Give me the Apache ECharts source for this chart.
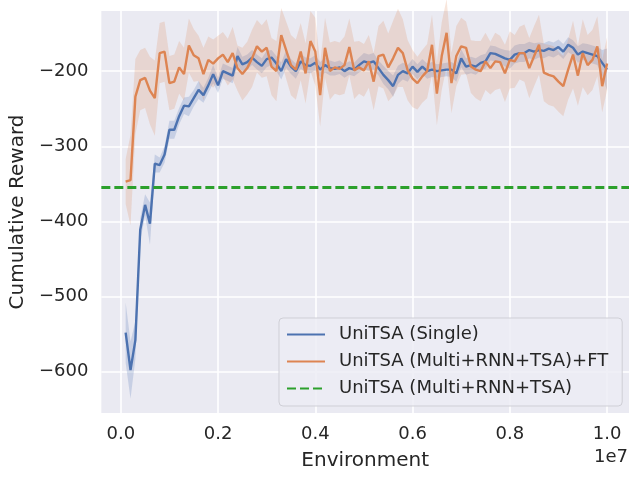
<!DOCTYPE html>
<html>
<head>
<meta charset="utf-8">
<script src="https://cdn.jsdelivr.net/npm/echarts@6/dist/echarts.min.js"></script>
<style>
html,body{margin:0;padding:0;background:#fff;}
#chart{width:640px;height:480px;}
</style>
</head>
<body>
<div id="chart"></div>
<script>
// x grid: one evaluation every 1e5 environment steps, 1e5 .. 1e7
var steps = Array.from({length: 100}, function (_, k) { return (k + 1) * 100000; });

var singleMean = [
 -548,-598,-558,-411,-378,-403,-323,-325,-311,-278,
 -278,-260,-246,-247,-236,-225,-232,-219,-204,-219,
 -200,-203,-206,-180,-191,-188,-182,-188,-193,-184,
 -182,-190,-200,-184,-194,-200,-187,-192,-193,-189,
 -198,-192,-196,-197,-195,-200,-196,-198,-192,-187,
 -189,-187,-196,-205,-212,-220,-205,-200,-203,-194,
 -201,-194,-200,-198,-200,-199,-198,-198,-203,-183,
 -194,-192,-194,-189,-187,-176,-177,-180,-183,-185,
 -178,-176,-176,-172,-174,-172,-173,-170,-172,-168,
 -174,-165,-169,-178,-174,-176,-178,-180,-189,-198
];
var singleSpread = [
 40,38,25,15,14,28,12,10,11,12,
 12,11,11,13,11,12,10,10,12,10,
 10,10,10,12,10,10,10,10,10,11,
 10,10,11,12,10,10,10,10,10,10,
 10,10,10,9,9,9,9,9,10,11,
 11,11,10,12,12,14,12,11,11,10,
 10,10,10,10,9,9,9,10,11,12,
 11,11,11,10,10,10,10,10,11,12,
 12,12,12,11,11,10,10,10,10,10,
 10,10,10,11,11,12,12,12,17,28
];
var ftMean = [
 -347,-345,-234,-212,-209,-226,-236,-176,-174,-216,
 -214,-195,-204,-166,-179,-183,-204,-185,-190,-183,
 -178,-188,-176,-196,-204,-196,-183,-167,-174,-169,
 -194,-200,-152,-172,-192,-198,-174,-203,-160,-174,
 -232,-169,-200,-195,-197,-192,-168,-199,-195,-199,
 -187,-214,-180,-178,-195,-183,-169,-176,-199,-210,
 -216,-207,-200,-165,-230,-180,-149,-216,-180,-167,
 -169,-194,-198,-200,-187,-196,-187,-188,-203,-185,
 -187,-176,-176,-196,-180,-165,-202,-205,-207,-214,
 -220,-198,-178,-206,-176,-192,-185,-167,-220,-190
];
var ftSpread = [
 30,60,50,40,40,45,50,40,40,36,
 36,35,35,36,35,30,35,31,32,30,
 30,31,35,30,35,35,38,35,35,38,
 38,40,36,38,40,40,38,40,40,45,
 42,40,38,35,35,38,38,38,35,35,
 35,38,40,45,45,50,52,45,40,38,
 35,35,36,40,42,45,45,40,40,38,
 35,35,38,40,38,35,38,35,38,38,
 35,35,38,40,40,40,38,40,40,40,
 40,40,45,40,45,40,40,40,35,35
];
var baselineValue = [-355];
var xTicks = [0, 2000000, 4000000, 6000000, 8000000, 10000000];
var yTicks = [-600, -500, -400, -300, -200];
var seriesNames = ['UniTSA (Single)', 'UniTSA (Multi+RNN+TSA)+FT', 'UniTSA (Multi+RNN+TSA)'];

var X_MIN = -400000, X_MAX = 10451000, Y_MIN = -655, Y_MAX = -120;
var FONT = 'DejaVu Sans';
var TXT = '#262626';

function pairs(xs, ys) { return xs.map(function (x, k) { return [x, ys[k]]; }); }

function bandSeries(m, s, color) {
  var data = steps.map(function (x, k) { return [x, m[k] - s[k], m[k] + s[k]]; });
  return {
    type: 'custom', silent: true, z: 2,
    encode: {x: 0, y: [1, 2]},
    data: data,
    renderItem: function (params, api) {
      if (params.dataIndex !== 0) return null;
      var up = [], lo = [];
      for (var k = 0; k < data.length; k++) {
        up.push(api.coord([data[k][0], data[k][2]]));
        lo.push(api.coord([data[k][0], data[k][1]]));
      }
      return {type: 'polygon', shape: {points: up.concat(lo.reverse())},
              style: {fill: color, stroke: null}};
    }
  };
}

var chart = echarts.init(document.getElementById('chart'), null, {renderer: 'canvas'});
var series = [];
series.push(bandSeries(singleMean, singleSpread, 'rgba(76,114,176,0.22)'));
series.push(bandSeries(ftMean, ftSpread, 'rgba(221,132,82,0.2)'));
series.push({
  name: seriesNames[0], type: 'line', symbol: 'none', z: 3,
  lineStyle: {color: '#4c72b0', width: 2.4}, itemStyle: {color: '#4c72b0'},
  data: pairs(steps, singleMean)
});
series.push({
  name: seriesNames[1], type: 'line', symbol: 'none', z: 4,
  lineStyle: {color: '#dd8452', width: 2.4}, itemStyle: {color: '#dd8452'},
  data: pairs(steps, ftMean)
});
series.push({
  name: seriesNames[2], type: 'line', symbol: 'none', z: 5,
  lineStyle: {color: '#2ca02c', width: 3, type: [9, 4]}, itemStyle: {color: '#2ca02c'},
  data: [[X_MIN, baselineValue[0]], [X_MAX, baselineValue[0]]]
});

chart.setOption({
  animation: false,
  backgroundColor: '#ffffff',
  textStyle: {fontFamily: FONT},
  grid: {left: 99, right: 11, top: 11, bottom: 67, show: true,
         backgroundColor: '#eaeaf2', borderWidth: 0, containLabel: false},
  xAxis: {
    type: 'value', min: X_MIN, max: X_MAX,
    name: 'Environment', nameLocation: 'middle', nameGap: 38,
    nameTextStyle: {fontSize: 20, color: TXT, fontFamily: FONT},
    axisLine: {show: false},
    axisTick: {show: false, customValues: xTicks},
    axisLabel: {customValues: xTicks, fontSize: 18, color: TXT, fontFamily: FONT, margin: 12,
      formatter: function (v) { return (v / 1e7).toFixed(1); }},
    splitLine: {show: true, lineStyle: {color: '#ffffff', width: 1.6}}
  },
  yAxis: {
    type: 'value', min: Y_MIN, max: Y_MAX,
    name: 'Cumulative Reward', nameLocation: 'middle', nameGap: 70,
    nameTextStyle: {fontSize: 20, color: TXT, fontFamily: FONT},
    axisLine: {show: false},
    axisTick: {show: false, customValues: yTicks},
    axisLabel: {customValues: yTicks, fontSize: 18, color: TXT, fontFamily: FONT, margin: 13,
      formatter: function (v) { return v < 0 ? '\u2212' + Math.abs(v) : String(v); }},
    splitLine: {show: true, lineStyle: {color: '#ffffff', width: 1.6}}
  },
  legend: {
    data: seriesNames, orient: 'vertical', left: 279, top: 318,
    itemWidth: 38, itemHeight: 18, itemGap: 9,
    padding: [7.5, 14, 8.5, 7],
    itemStyle: {color: 'rgba(0,0,0,0)', borderWidth: 0, opacity: 0},
    backgroundColor: 'rgba(236,236,244,0.85)', borderColor: '#cfcfd6', borderWidth: 1, borderRadius: 4,
    textStyle: {fontSize: 18, color: TXT, fontFamily: FONT, lineHeight: 18, padding: [0, 0, 0, 9]},
    selectedMode: false
  },
  graphic: [{
    type: 'text',
    style: {text: '1e7', x: 628, y: 457, textAlign: 'right', textVerticalAlign: 'middle',
            font: '18px "DejaVu Sans"', fill: TXT}
  }],
  series: series
});
</script>
</body>
</html>
